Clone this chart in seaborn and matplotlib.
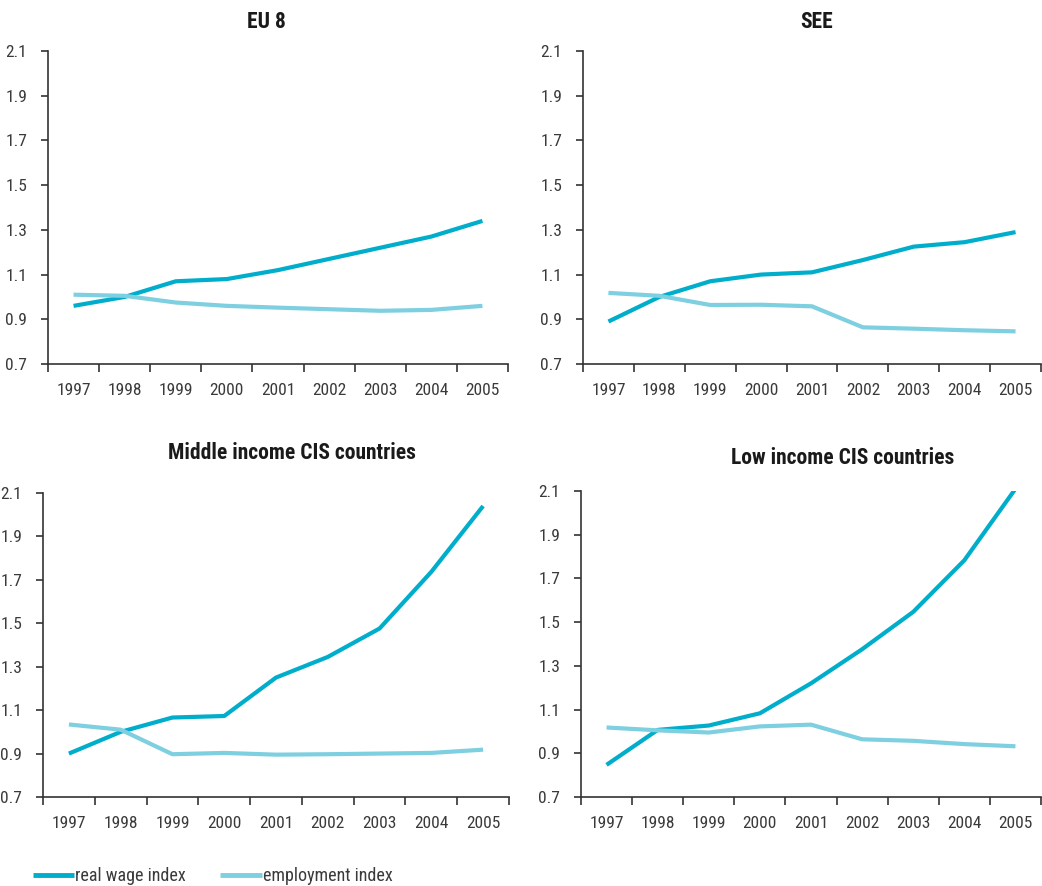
import matplotlib
matplotlib.use("Agg")
import matplotlib.pyplot as plt
from matplotlib.lines import Line2D
from matplotlib.ticker import FixedLocator
import numpy as np
import pandas as pd
import seaborn as sns

years = ["1997", "1998", "1999", "2000", "2001", "2002", "2003", "2004", "2005"]

panel_titles = ["EU 8", "SEE", "Middle income CIS countries", "Low income CIS countries"]

wage_eu8 = [0.96, 1.00, 1.07, 1.08, 1.12, 1.17, 1.22, 1.27, 1.34]
empl_eu8 = [1.01, 1.005, 0.975, 0.96, 0.952, 0.945, 0.938, 0.942, 0.96]

wage_see = [0.89, 1.00, 1.07, 1.10, 1.11, 1.165, 1.225, 1.245, 1.29]
empl_see = [1.018, 1.005, 0.964, 0.965, 0.958, 0.864, 0.858, 0.851, 0.846]

wage_mid = [0.90, 1.00, 1.066, 1.073, 1.25, 1.345, 1.476, 1.737, 2.04]
empl_mid = [1.034, 1.01, 0.897, 0.903, 0.895, 0.897, 0.90, 0.903, 0.918]

wage_low = [0.847, 1.007, 1.027, 1.083, 1.22, 1.376, 1.547, 1.783, 2.11]
empl_low = [1.018, 1.005, 0.995, 1.023, 1.031, 0.964, 0.957, 0.942, 0.932]

series_names = ["real wage index", "employment index"]
y_ticks = [0.7, 0.9, 1.1, 1.3, 1.5, 1.7, 1.9, 2.1]

wage_sets = [wage_eu8, wage_see, wage_mid, wage_low]
empl_sets = [empl_eu8, empl_see, empl_mid, empl_low]

colors = {"real wage index": "#00AECB", "employment index": "#7ECFE0"}

sns.set_theme(style="ticks")
plt.rcParams["font.family"] = ["Roboto Condensed", "Archivo Narrow",
                               "Liberation Sans Narrow", "DejaVu Sans"]

fig = plt.figure(figsize=(10.42, 8.86), dpi=100)
W, H = 1042, 886

# axes boxes in pixels: left, top, right, bottom
boxes = [(48, 51, 508, 364), (583, 51, 1041, 364),
         (43, 493, 509, 797), (581, 491, 1041, 797)]
title_pos = [(266, 22), (817, 22), (292, 453), (843, 458)]

for i in range(4):
    l, t, r, b = boxes[i]
    ax = fig.add_axes([l / W, 1 - b / H, (r - l) / W, (b - t) / H])
    df = pd.DataFrame({
        "pos": list(range(len(years))) * 2,
        "value": wage_sets[i] + empl_sets[i],
        "series": [series_names[0]] * len(years) + [series_names[1]] * len(years),
    })
    sns.lineplot(data=df, x="pos", y="value", hue="series", palette=colors,
                 hue_order=series_names, linewidth=3.0, ax=ax, legend=False,
                 solid_capstyle="butt")
    ax.set_xlim(-0.5, len(years) - 0.5)
    ax.set_ylim(0.7, 2.1)
    ax.set_yticks(y_ticks)
    ax.set_yticklabels([f"{v:.1f}" for v in y_ticks])
    ax.set_xticks(range(len(years)))
    ax.set_xticklabels(years)
    ax.xaxis.set_minor_locator(FixedLocator(np.arange(-0.5, len(years), 1.0)))
    ax.tick_params(axis="x", which="major", length=0, pad=14, labelsize=12.5,
                   labelcolor="#3a3a3a")
    ax.tick_params(axis="x", which="minor", length=6, width=1.2, color="#333333",
                   direction="out")
    ax.tick_params(axis="y", length=5, width=1.2, color="#333333", pad=10,
                   labelsize=12.5, labelcolor="#3a3a3a")
    ax.set_xlabel("")
    ax.set_ylabel("")
    sns.despine(ax=ax)
    for s in ("left", "bottom"):
        ax.spines[s].set_color("#333333")
        ax.spines[s].set_linewidth(1.2)
    ax.set_facecolor("white")
    tx, ty = title_pos[i]
    fig.text(tx / W, 1 - ty / H, panel_titles[i], ha="center", va="center",
             fontsize=15.5, fontweight="bold", color="#1a1a1a")

handles = [Line2D([0], [0], color=colors[n], linewidth=3.5, solid_capstyle="butt")
           for n in series_names]
fig.legend(handles, series_names, loc="center left",
           bbox_to_anchor=(20 / W, 1 - 876 / H), ncol=2, frameon=False,
           handlelength=2.3, handletextpad=0.05, columnspacing=1.9,
           fontsize=13, labelcolor="#3a3a3a", borderpad=0.2)

fig.patch.set_facecolor("white")
fig.savefig("out.png", dpi=100, facecolor="white")
